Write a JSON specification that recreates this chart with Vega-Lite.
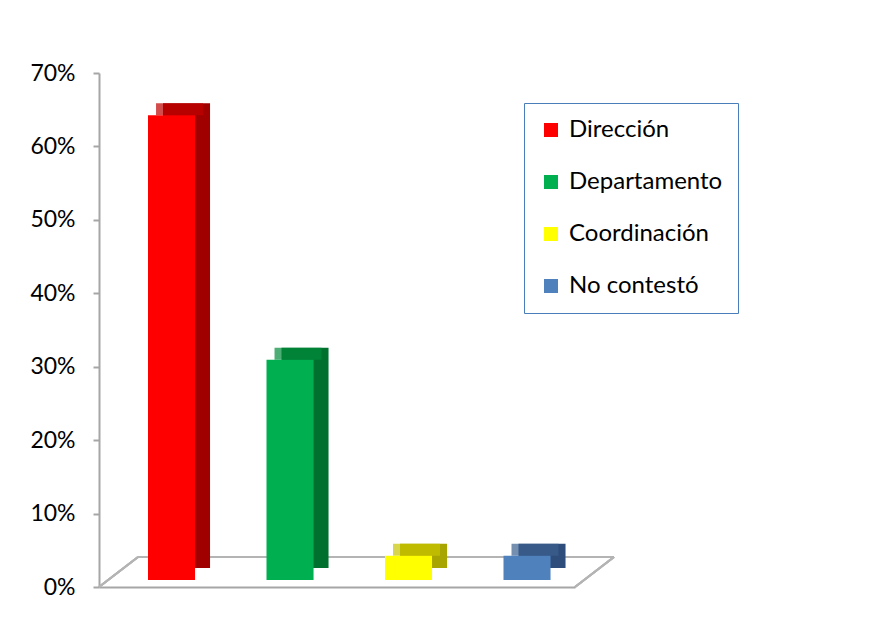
{
  "$schema": "https://vega.github.io/schema/vega-lite/v6.json",
  "autosize": {"type": "none"},
  "padding": {"left": 99, "top": 73, "right": 301, "bottom": 32},
  "width": 476,
  "height": 514,
  "background": "white",
  "config": {
    "view": {"stroke": null},
    "font": "Lato",
    "axis": {"labelFont": "Lato", "titleFont": "Lato"},
    "legend": {"labelFont": "Lato"}
  },
  "data": {
    "values": [
      {"categoria": "Dirección", "porcentaje": 0.633},
      {"categoria": "Departamento", "porcentaje": 0.30},
      {"categoria": "Coordinación", "porcentaje": 0.033},
      {"categoria": "No contestó", "porcentaje": 0.033}
    ]
  },
  "layer": [
    {
      "layer": [
        {
          "mark": {"type": "rule", "color": "#b4b4b4", "strokeWidth": 2, "xOffset": 39, "x2Offset": 39, "yOffset": -30, "y2Offset": -30},
          "encoding": {
            "x": {"datum": 0, "type": "quantitative", "scale": {"domain": [0, 1], "nice": false}, "axis": null},
            "x2": {"datum": 1},
            "y": {"datum": 0, "type": "quantitative", "scale": {"domain": [0, 0.7], "nice": false}},
            "y2": {"datum": 0}
          }
        },
        {
          "mark": {"type": "rule", "color": "#b4b4b4", "strokeWidth": 2, "x2Offset": 39, "y2Offset": -30},
          "encoding": {
            "x": {"datum": 0, "type": "quantitative", "scale": {"domain": [0, 1], "nice": false}, "axis": null},
            "x2": {"datum": 0},
            "y": {"datum": 0, "type": "quantitative", "scale": {"domain": [0, 0.7], "nice": false}},
            "y2": {"datum": 0}
          }
        },
        {
          "mark": {"type": "rule", "color": "#b4b4b4", "strokeWidth": 2, "x2Offset": 39, "y2Offset": -30},
          "encoding": {
            "x": {"datum": 1, "type": "quantitative", "scale": {"domain": [0, 1], "nice": false}, "axis": null},
            "x2": {"datum": 1},
            "y": {"datum": 0, "type": "quantitative", "scale": {"domain": [0, 0.7], "nice": false}},
            "y2": {"datum": 0}
          }
        }
      ]
    },
    {
      "layer": [
        {
          "mark": {"type": "bar", "xOffset": 15, "yOffset": -19},
          "encoding": {
            "x": {
              "field": "categoria",
              "type": "nominal",
              "sort": ["Dirección", "Departamento", "Coordinación", "No contestó"],
              "scale": {"paddingInner": 0.603, "paddingOuter": 0.31, "align": 0.667},
              "axis": {"title": null, "labels": false, "ticks": false, "domainColor": "#a6a6a6", "domainWidth": 2}
            },
            "y": {"field": "porcentaje", "type": "quantitative", "scale": {"domain": [0, 0.7], "nice": false}},
            "color": {
              "field": "categoria",
              "type": "nominal",
              "scale": {
                "domain": ["Dirección", "Departamento", "Coordinación", "No contestó"],
                "range": ["#a00000", "#00702f", "#a8a400", "#2f4d7a"]
              },
              "legend": null
            }
          }
        },
        {
          "mark": {"type": "tick", "thickness": 12, "xOffset": 8, "yOffset": -13},
          "encoding": {
            "x": {
              "field": "categoria",
              "type": "nominal",
              "sort": ["Dirección", "Departamento", "Coordinación", "No contestó"]
            },
            "y": {"field": "porcentaje", "type": "quantitative", "scale": {"domain": [0, 0.7], "nice": false}},
            "size": {"value": 47},
            "color": {
              "field": "categoria",
              "type": "nominal",
              "scale": {
                "domain": ["Dirección", "Departamento", "Coordinación", "No contestó"],
                "range": ["#c00000", "#008a3a", "#c8c400", "#3a5f8f"]
              },
              "legend": null
            }
          }
        },
        {
          "mark": {"type": "bar", "yOffset": -7},
          "encoding": {
            "x": {
              "field": "categoria",
              "type": "nominal",
              "sort": ["Dirección", "Departamento", "Coordinación", "No contestó"]
            },
            "y": {
              "field": "porcentaje",
              "type": "quantitative",
              "scale": {"domain": [0, 0.7], "nice": false},
              "axis": {
                "title": null,
                "values": [0, 0.1, 0.2, 0.3, 0.4, 0.5, 0.6, 0.7],
                "format": ".0%",
                "grid": false,
                "labelFontSize": 23,
                "labelColor": "#000000",
                "labelPadding": 18,
                "tickSize": 6,
                "tickColor": "#a6a6a6",
                "tickWidth": 2,
                "domainColor": "#a6a6a6",
                "domainWidth": 2
              }
            },
            "color": {
              "field": "categoria",
              "type": "nominal",
              "scale": {
                "domain": ["Dirección", "Departamento", "Coordinación", "No contestó"],
                "range": ["#ff0000", "#00b050", "#ffff00", "#4f81bd"]
              },
              "legend": {
                "title": null,
                "orient": "none",
                "legendX": 425,
                "legendY": 30,
                "symbolType": "square",
                "symbolSize": 196,
                "symbolStrokeWidth": 0,
                "labelFontSize": 24,
                "labelColor": "#000000",
                "labelOffset": 6,
                "rowPadding": 28,
                "padding": 15,
                "strokeColor": "#4a7ebb",
                "fillColor": "white",
                "labelLimit": 300
              }
            }
          }
        }
      ],
      "resolve": {"scale": {"color": "independent"}, "legend": {"color": "independent"}}
    }
  ],
  "resolve": {"scale": {"x": "independent"}}
}
